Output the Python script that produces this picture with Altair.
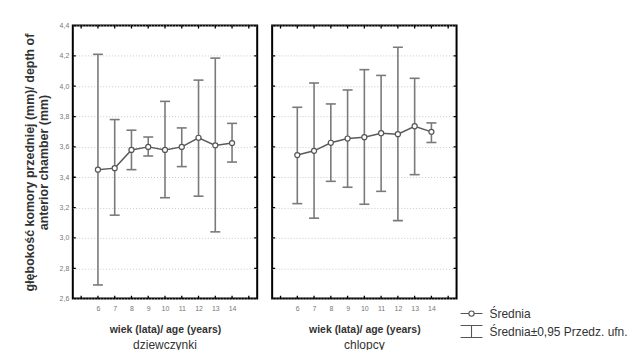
import altair as alt
import pandas as pd

ages = [6, 7, 8, 9, 10, 11, 12, 13, 14]
girls_mean = [3.45, 3.46, 3.58, 3.60, 3.58, 3.60, 3.66, 3.61, 3.625]
girls_low = [2.69, 3.15, 3.45, 3.54, 3.265, 3.47, 3.275, 3.04, 3.50]
girls_high = [4.21, 3.78, 3.71, 3.665, 3.90, 3.725, 4.04, 4.185, 3.755]
boys_mean = [3.546, 3.574, 3.627, 3.655, 3.664, 3.69, 3.684, 3.736, 3.699]
boys_low = [3.226, 3.13, 3.373, 3.334, 3.222, 3.307, 3.114, 3.417, 3.629]
boys_high = [3.861, 4.021, 3.883, 3.975, 4.109, 4.071, 4.257, 4.052, 3.758]

x_domain = [4.5, 15.5]
x_ticks = [5, 6, 7, 8, 9, 10, 11, 12, 13, 14, 15]
y_ticks = [2.6, 2.8, 3.0, 3.2, 3.4, 3.6, 3.8, 4.0, 4.2, 4.4]
panel_titles = ["dziewczynki", "chlopcy"]
x_title = "wiek (lata)/ age (years)"
y_title_line1 = "głębokość komory przedniej (mm)/ depth of"
y_title_line2 = "anterior chamber (mm)"
legend_labels = ["Średnia", "Średnia±0,95 Przedz. ufn."]

FONT = "Liberation Sans"
xscale = alt.Scale(domain=x_domain, nice=False, zero=False)
yscale = alt.Scale(domain=[y_ticks[0], y_ticks[-1]], nice=False, zero=False)

W, H = 185, 274


def panel(mean, low, high, title, show_y, with_legend=False):
    df = pd.DataFrame({"age": ages, "mean": mean, "low": low, "high": high})
    caps = pd.DataFrame({"age": ages * 2, "v": low + high})
    xt = pd.DataFrame({"age": x_ticks * 2,
                       "v": [y_ticks[0]] * len(x_ticks) + [y_ticks[-1]] * len(x_ticks)})
    yt = pd.DataFrame({"age": [x_domain[0]] * len(y_ticks) + [x_domain[1]] * len(y_ticks),
                       "v": y_ticks * 2})

    main_kw = dict(values=y_ticks, grid=True, gridDash=[1, 2], gridColor="#c8c8c8",
                   gridWidth=1, ticks=False, domain=False, orient="left")
    if show_y:
        main_kw.update(labels=True, title=y_title_line2, labelFontSize=7, labelColor="#777",
                       labelPadding=4,
                       labelExpr="replace(format(datum.value, '.1f'), '.', ',')",
                       titleFontSize=12.5, titleFontWeight="bold", titleColor="#333",
                       titlePadding=9, titleAnchor="middle")
    else:
        main_kw.update(labels=False, title="")
    yaxis_main = alt.Axis(**main_kw)
    yaxis_second = alt.Axis(values=y_ticks, grid=False, ticks=False, domain=False,
                            labels=False, orient="left", title=y_title_line1,
                            titleFontSize=12.5, titleFontWeight="bold", titleColor="#333",
                            titlePadding=36, titleAnchor="middle")

    xaxis = alt.Axis(values=ages, grid=False, ticks=False, domain=False, format="d",
                     title=x_title, labelFontSize=7, labelColor="#777",
                     labelPadding=6, titleFontSize=10.5, titleFontWeight="bold",
                     titleColor="#333", titlePadding=13, labelFlush=False)

    def X(f):
        return alt.X(f, scale=xscale, axis=xaxis)

    def Y(f, axis=None):
        return alt.Y(f, scale=yscale, axis=axis)

    base = alt.Chart(df)
    line = base.mark_line(color="#5a5a5a", strokeWidth=1.5).encode(
        x=X("age:Q"), y=Y("mean:Q", yaxis_main))
    rule = base.mark_rule(color="#7a7a7a", strokeWidth=1.6).encode(
        x=X("age:Q"), y=Y("low:Q"), y2="high:Q")
    cap = alt.Chart(caps).mark_tick(orient="horizontal", size=10, thickness=1.6,
                                    color="#7a7a7a", opacity=1).encode(
        x=X("age:Q"), y=Y("v:Q"))
    pts = base.mark_point(shape="circle", filled=True, fill="white", stroke="#555",
                          strokeWidth=1.2, size=26, opacity=1).encode(
        x=X("age:Q"), y=Y("mean:Q"))
    xtk = alt.Chart(xt).mark_tick(orient="vertical", size=6, thickness=1.3,
                                  color="black", clip=True, opacity=1).encode(
        x=X("age:Q"), y=Y("v:Q"))
    ytk = alt.Chart(yt).mark_tick(orient="horizontal", size=6, thickness=1.3,
                                  color="black", clip=True, opacity=1).encode(
        x=X("age:Q"), y=Y("v:Q", yaxis_second if show_y else None))
    layers = [line, rule, cap, pts, xtk, ytk]
    if with_legend:
        lg = pd.DataFrame({"label": legend_labels, "age": [ages[0]] * 2,
                           "v": [mean[0]] * 2})
        circ_line = ("M-1,0H-0.24M0.24,0H1"
                     "M-0.24,0A0.24,0.24 0 1,0 0.24,0A0.24,0.24 0 1,0 -0.24,0Z")
        ibeam = "M-1,-0.55H1M0,-0.55V0.55M-1,0.55H1"
        leg = alt.Chart(lg).mark_point(opacity=0, filled=False).encode(
            x=X("age:Q"), y=Y("v:Q"),
            shape=alt.Shape("label:N",
                            scale=alt.Scale(domain=legend_labels, range=[circ_line, ibeam]),
                            legend=alt.Legend(title=None, orient="none", legendX=388,
                                              legendY=277, symbolSize=484, padding=0,
                                              symbolOpacity=1, symbolFillColor="white",
                                              symbolStrokeColor="#555",
                                              symbolStrokeWidth=1.1,
                                              labelFontSize=12, labelColor="#333",
                                              labelOffset=6, rowPadding=-7,
                                              labelFont=FONT)),
        )
        layers.append(leg)
    return alt.layer(*layers).resolve_axis(y="independent").properties(
        width=W, height=H,
        title=alt.TitleParams(title, orient="bottom", fontSize=12, fontWeight="normal",
                              color="#333", offset=5, font=FONT),
    )


left = panel(girls_mean, girls_low, girls_high, panel_titles[0], True)
right = panel(boys_mean, boys_low, boys_high, panel_titles[1], False, with_legend=True)

chart = alt.hconcat(left, right, spacing=13).properties(
    padding={"left": 14, "top": 12, "right": 2, "bottom": 0},
    background="white",
).configure(font=FONT).configure_view(stroke="black", strokeWidth=2)

chart.save("out.html", embed_options={"renderer": "svg", "actions": False})
